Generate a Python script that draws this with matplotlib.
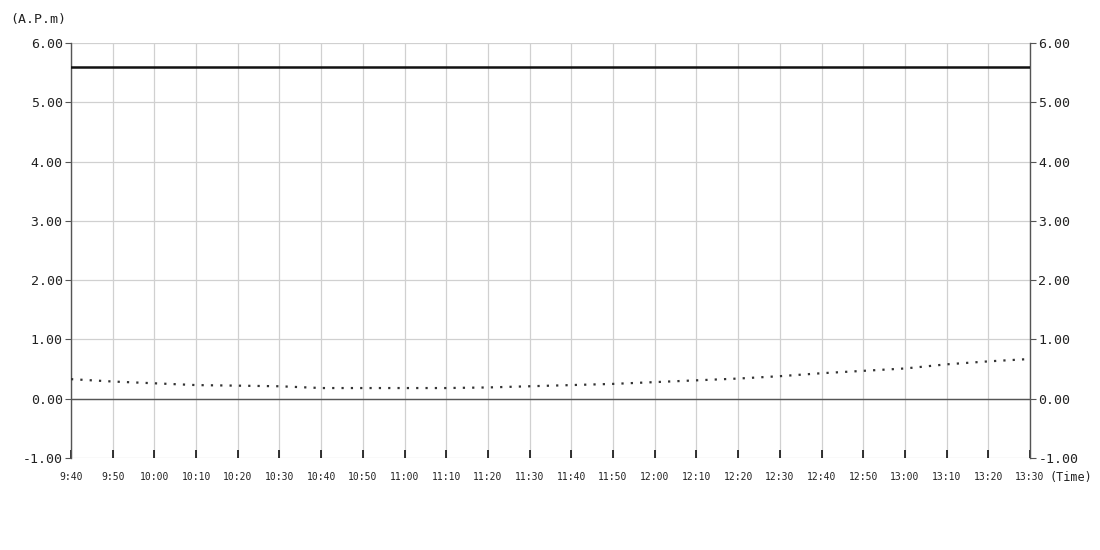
import matplotlib
matplotlib.use("Agg")
import matplotlib.pyplot as plt
import numpy as np

times = ["9:40", "9:50", "10:00", "10:10", "10:20", "10:30", "10:40", "10:50",
         "11:00", "11:10", "11:20", "11:30", "11:40", "11:50", "12:00", "12:10",
         "12:20", "12:30", "12:40", "12:50", "13:00", "13:10", "13:20", "13:30"]
limit_value = 5.6
series_values = [0.33, 0.29, 0.26, 0.23, 0.22, 0.21, 0.18, 0.18, 0.18, 0.18, 0.19,
                 0.21, 0.23, 0.25, 0.28, 0.31, 0.34, 0.38, 0.43, 0.47, 0.51, 0.58,
                 0.63, 0.67]
y_ticks = [-1.0, 0.0, 1.0, 2.0, 3.0, 4.0, 5.0, 6.0]

plt.rcParams['font.family'] = ['DejaVu Sans Mono']

fig = plt.figure(figsize=(11, 5.5), dpi=100)
ax = fig.add_axes([71/1100, 1 - 458/550, (1030-71)/1100, (458-43)/550])

x = np.arange(len(times))
ax.set_xlim(0, len(times) - 1)
ax.set_ylim(-1, 6)

# grid
for xi in x:
    ax.axvline(xi, color="#d0d0d0", lw=0.9, zorder=0)
for yv in y_ticks:
    ax.axhline(yv, color="#d0d0d0", lw=0.9, zorder=0)
ax.axhline(0, color="#555555", lw=1.0, zorder=1)

ax.plot(x, [limit_value] * len(x), color="#111111", lw=1.8, zorder=3)
ax.plot(x, series_values, color="#333333", lw=1.6, linestyle=(0, (1, 3.2)), zorder=3)

for s in ["top", "bottom"]:
    ax.spines[s].set_visible(False)
for s in ["left", "right"]:
    ax.spines[s].set_color("#555555")
    ax.spines[s].set_linewidth(1.0)

ax.set_yticks(y_ticks)
ax.set_yticklabels([f"{v:.2f}" for v in y_ticks], fontsize=9.5, color="#222222")
ax.tick_params(axis="y", direction="out", length=4, width=0.8, color="#555555",
               left=True, right=True, labelleft=True, labelright=True, pad=2)

ax.set_xticks(x)
ax.set_xticklabels(times, fontsize=7, color="#222222")
ax.tick_params(axis="x", direction="in", length=6, width=1.2, color="#111111", pad=10)

fig.text(10/1100, 1 - 20/550, "(A.P.m)", fontsize=9.5, ha="left", va="center", color="#222222")
fig.text(1049/1100, 1 - 478/550, "(Time)", fontsize=8.5, ha="left", va="center", color="#222222")

fig.savefig("out.png", dpi=100)
